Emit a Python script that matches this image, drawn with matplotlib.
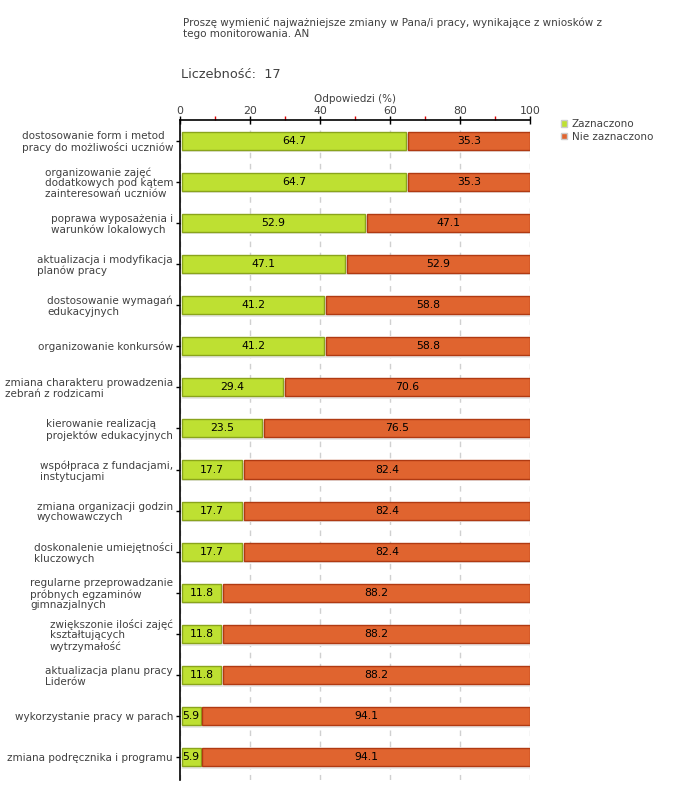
import numpy as np
import matplotlib
matplotlib.use("Agg")
import matplotlib.pyplot as plt
from matplotlib.patches import Patch

categories = [
    "dostosowanie form i metod\npracy do możliwości uczniów",
    "organizowanie zajęć\ndodatkowych pod kątem\nzainteresowań uczniów",
    "poprawa wyposażenia i\nwarunków lokalowych",
    "aktualizacja i modyfikacja\nplanów pracy",
    "dostosowanie wymagań\nedukacyjnych",
    "organizowanie konkursów",
    "zmiana charakteru prowadzenia\nzebrań z rodzicami",
    "kierowanie realizacją\nprojektów edukacyjnych",
    "współpraca z fundacjami,\ninstytucjami",
    "zmiana organizacji godzin\nwychowawczych",
    "doskonalenie umiejętności\nkluczowych",
    "regularne przeprowadzanie\npróbnych egzaminów\ngimnazjalnych",
    "zwiększonie ilości zajęć\nkształtujących\nwytrzymałość",
    "aktualizacja planu pracy\nLiderów",
    "wykorzystanie pracy w parach",
    "zmiana podręcznika i programu",
]
zaznaczono = [64.7, 64.7, 52.9, 47.1, 41.2, 41.2, 29.4, 23.5, 17.7, 17.7, 17.7, 11.8, 11.8, 11.8, 5.9, 5.9]
nie_zaznaczono = [35.3, 35.3, 47.1, 52.9, 58.8, 58.8, 70.6, 76.5, 82.4, 82.4, 82.4, 88.2, 88.2, 88.2, 94.1, 94.1]

GREEN, GREEN_EDGE = "#bee032", "#8aa41c"
ORANGE, ORANGE_EDGE = "#e0642f", "#b03a12"
TXT = "#404040"
FS = 7.5
plt.rcParams.update({"font.family": "DejaVu Sans", "font.size": FS})

fig = plt.figure(figsize=(6.8, 8.0), dpi=100)
ax = fig.add_axes([180 / 680, 20 / 800, 350 / 680, 660 / 800])

y = np.arange(len(categories))
z = np.array(zaznaczono)
n = np.array(nie_zaznaczono)
gap = 0.5
h = 0.44

# faint shadow under the bars
ax.barh(y + 0.06, 100 - gap, left=gap, height=h, color="#e8e8e8", zorder=1)
ax.barh(y, z - gap, left=gap, height=h, color=GREEN, edgecolor=GREEN_EDGE, lw=1, zorder=3)
ax.barh(y, n - gap, left=z + gap, height=h, color=ORANGE, edgecolor=ORANGE_EDGE, lw=1, zorder=3)

for yi, zi, ni in zip(y, z, n):
    ax.text(zi / 2 + gap / 2, yi, f"{zi:.1f}", ha="center", va="center", fontsize=7.8, color="black", zorder=4)
    ax.text(zi + ni / 2 + gap / 2, yi, f"{ni:.1f}", ha="center", va="center", fontsize=7.8, color="black", zorder=4)

ax.set_xlim(0, 100)
ax.set_ylim(15.55, -0.5)
ax.set_yticks(y)
ax.set_yticklabels(categories, multialignment="left", color=TXT, fontsize=FS, linespacing=1.1)
ax.tick_params(axis="y", length=3, width=1, pad=2, color="black")

ax.xaxis.tick_top()
ax.xaxis.set_label_position("top")
ax.set_xticks(np.arange(0, 101, 20))
ax.set_xticks(np.arange(10, 100, 20), minor=True)
ax.tick_params(axis="x", which="major", direction="inout", length=6, width=1, color="black",
               labelcolor=TXT, labelsize=7.8, pad=0)
ax.tick_params(axis="x", which="minor", direction="out", length=3, width=1, color="#dd0000")
ax.set_xlabel("Odpowiedzi (%)", color=TXT, fontsize=FS, labelpad=3)
ax.grid(axis="x", which="major", ls=(0, (4, 4)), color="#d0d0d0", lw=1, zorder=0)
ax.set_axisbelow(True)

for s in ["right", "bottom"]:
    ax.spines[s].set_visible(False)
ax.spines["left"].set_linewidth(1.2)
ax.spines["top"].set_linewidth(1.2)

fig.text(183 / 680, 1 - 28 / 800,
         "Proszę wymienić najważniejsze zmiany w Pana/i pracy, wynikające z wniosków z\ntego monitorowania. AN",
         fontsize=FS, color=TXT, va="center", ha="left", linespacing=1.1)
fig.text(181 / 680, 1 - 75 / 800, "Liczebność:  17", fontsize=9.3, color=TXT, va="center", ha="left")

handles = [Patch(facecolor=GREEN, edgecolor="#cccccc", label="Zaznaczono"),
           Patch(facecolor=ORANGE, edgecolor="#cccccc", label="Nie zaznaczono")]
fig.legend(handles=handles, loc="upper left", bbox_to_anchor=(556 / 680, 1 - 114 / 800), frameon=False,
           fontsize=FS, labelcolor=TXT, handlelength=0.6, handleheight=0.6, handletextpad=0.4,
           labelspacing=0.25, borderpad=0)

fig.savefig("out.png", dpi=100)
